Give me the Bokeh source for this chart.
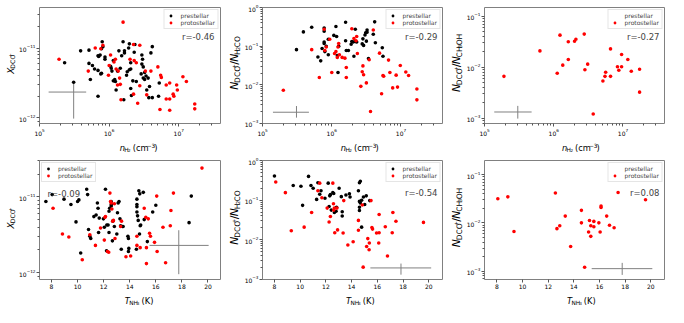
import numpy as np
from bokeh.plotting import figure
from bokeh.layouts import gridplot
from bokeh.models import Range1d, Label, FixedTicker, LogTickFormatter
from bokeh.core.properties import value
from bokeh.embed import file_html
from bokeh.resources import INLINE

# ---------------- data (log10 values) ----------------
# panel 1: n_H2 vs X(DCO+)
p1_pre_logn = [5.36,5.49,5.59,5.71,5.71,5.73,5.76,5.79,5.84,5.85,5.87,5.84,5.88,5.89,5.84,5.89,5.91,5.90,5.94,5.94,
               6.02,6.03,6.04,6.06,6.08,6.09,6.10,6.06,6.12,6.14,6.16,6.18,6.20,6.22,6.22,6.21,6.25,6.26,6.28,6.29,
               6.31,6.29,6.31,6.31,6.32,6.34,6.36,6.37,6.39,6.46,6.47,6.47,6.48,6.49,6.49,6.51,6.51,6.53,6.54,6.56,
               6.57,6.60,6.58,6.62,6.62,6.71,6.72]
p1_pre_logx = [-11.21,-11.49,-11.04,-11.03,-11.22,-11.45,-11.25,-11.30,-11.11,-11.12,-11.10,-11.32,-11.37,-11.36,-11.69,
               -11.01,-10.98,-10.91,-11.13,-11.16,-11.26,-11.29,-11.33,-11.47,-11.45,-11.48,-11.60,-11.18,-11.33,-11.04,
               -11.29,-11.11,-10.91,-11.04,-11.07,-11.74,-11.39,-11.34,-11.00,-10.94,-11.21,-11.31,-11.30,-11.58,-11.68,
               -11.47,-11.06,-10.95,-11.48,-11.37,-11.10,-11.23,-11.16,-11.27,-11.43,-11.45,-11.35,-11.40,-11.60,-11.43,
               -11.71,-11.07,-11.55,-11.71,-10.98,-11.69,-11.50]
p1_pro_logn = [5.28,5.70,5.80,5.88,5.91,6.02,6.00,6.07,6.09,6.10,6.13,6.15,6.16,6.17,6.20,6.12,5.99,6.30,6.35,6.36,
               6.35,6.39,6.44,6.44,6.41,6.52,6.54,6.60,6.70,6.74,6.75,6.82,6.87,6.87,6.87,6.92,6.93,6.97,6.98,7.06,
               7.11,7.23,7.23,6.73,6.82]
p1_pro_logx = [-11.16,-11.33,-11.00,-11.01,-10.96,-11.10,-11.25,-11.20,-11.16,-11.30,-11.33,-11.43,-11.52,-11.74,-10.63,
               -11.53,-11.39,-11.16,-10.95,-11.18,-11.66,-11.21,-10.96,-11.54,-11.79,-11.33,-11.67,-11.33,-11.27,-11.39,
               -11.42,-11.53,-11.50,-11.89,-11.73,-11.66,-11.69,-11.53,-11.60,-11.41,-11.48,-11.80,-11.87,-11.88,-11.73]

# panel 2: n_H2 vs N(DCO+)/N(H2CO)
p2_pre_logn = [5.49,5.59,5.71,5.80,5.84,5.86,5.89,5.89,5.89,5.89,5.90,5.92,5.95,5.95,6.03,6.06,6.07,6.08,6.09,6.10,
               6.20,6.20,6.21,6.24,6.28,6.29,6.31,6.32,6.34,6.34,6.36,6.44,6.45,6.46,6.48,6.49,6.50,6.51,6.51,6.53,
               6.60,6.62,6.63,6.73,6.74]
p2_pre_logr = [-1.09,-0.63,-0.51,-1.28,-1.38,-1.06,-0.53,-0.61,-0.89,-0.93,-1.14,-1.00,-0.82,-1.22,-0.72,-0.49,-0.75,
               -1.24,-1.68,-1.00,-0.38,-0.86,-1.11,-1.11,-0.95,-0.88,-0.89,-1.26,-0.56,-0.88,-0.89,-0.94,-0.81,-0.98,
               -0.71,-0.65,-0.87,-0.58,-0.64,-1.32,-0.69,-0.37,-0.91,-1.04,-1.26]
p2_pro_logn = [5.30,5.71,5.82,5.89,5.90,5.92,5.97,6.00,6.04,6.06,6.08,6.10,6.09,6.11,6.15,6.19,6.21,6.21,6.29,6.32,
               6.35,6.37,6.36,6.44,6.45,6.46,6.42,6.50,6.54,6.56,6.60,6.69,6.72,6.74,6.75,6.82,6.84,6.88,6.93,6.95,
               6.99,7.07,7.11,7.23,7.23]
p2_pro_logr = [-2.14,-1.09,-1.81,-0.56,-1.11,-1.02,-0.82,-1.68,-1.19,-1.14,-1.29,-0.93,-1.02,-1.22,-1.29,-1.31,-1.81,
               -1.55,-0.55,-0.80,-0.86,-1.19,-0.75,-1.66,-1.51,-1.74,-2.04,-1.95,-1.35,-2.69,-0.58,-1.18,-2.23,-1.76,
               -1.78,-1.36,-1.68,-2.08,-1.75,-2.06,-1.50,-1.67,-1.76,-2.11,-2.39]

# panel 3: n_H2 vs N(DCO+)/N(CH3OH)  (protostellar only)
p3_pro_logn = [5.28,5.80,6.05,6.09,6.13,6.21,6.21,6.30,6.32,6.44,6.45,6.49,6.57,6.71,6.74,6.75,6.82,6.82,6.92,6.94,
               6.98,6.98,7.07,7.12,7.24,7.24]
p3_pro_logr = [-2.18,-1.68,-2.12,-1.37,-1.96,-1.50,-1.85,-1.49,-1.45,-1.35,-2.05,-1.94,-2.92,-2.27,-2.18,-2.10,-1.64,
               -2.18,-1.99,-2.06,-1.75,-1.99,-1.85,-2.08,-2.04,-2.49]

# panel 4: T_NH3 vs X(DCO+)
p4_pre_T = [7.57,8.05,8.96,9.49,9.88,10.00,10.10,10.24,10.70,10.77,10.84,10.94,11.01,11.25,11.42,11.52,11.57,11.61,
            11.66,11.98,12.05,12.14,12.24,12.34,12.22,12.41,12.46,12.41,12.58,12.58,12.58,12.67,12.70,12.82,13.01,
            13.06,13.11,13.18,13.25,13.30,13.35,13.45,13.49,13.86,13.90,13.90,13.93,14.55,14.55,14.55,14.60,14.65,
            14.70,14.75,14.77,14.80,14.84,15.04,15.11,15.35,15.76,16.00,18.55,18.72,14.51,14.55]
p4_pre_logx = [-11.06,-10.97,-11.03,-11.10,-11.33,-11.06,-11.04,-11.74,-10.90,-10.97,-11.43,-11.52,-11.55,-11.26,-11.24,
               -11.08,-11.15,-11.47,-11.28,-11.29,-11.40,-10.90,-11.37,-11.37,-11.71,-11.19,-11.15,-11.47,-11.06,-11.10,
               -11.12,-11.58,-11.32,-11.39,-11.49,-11.21,-11.08,-11.06,-11.29,-11.38,-11.69,-11.39,-11.39,-11.52,-11.55,
               -11.72,-11.68,-11.20,-11.03,-11.10,-11.25,-11.31,-10.92,-11.49,-10.96,-11.38,-11.37,-10.94,-11.30,-11.59,
               -11.20,-11.11,-11.34,-10.99,-11.69,-11.13]
p4_pro_T = [8.12,8.84,9.33,10.36,10.94,11.37,11.76,12.10,12.14,12.05,12.29,12.39,12.48,12.53,12.58,12.63,12.70,12.75,
            12.82,12.87,13.30,13.37,13.71,14.07,14.55,14.55,14.80,15.11,15.23,15.28,15.28,15.42,15.52,15.59,15.90,
            16.07,16.10,16.55,17.11,17.16,17.35,16.75,19.54]
p4_pro_logx = [-11.15,-11.49,-11.53,-11.83,-11.50,-11.64,-11.41,-11.27,-11.26,-11.57,-11.72,-11.73,-10.95,-11.06,-11.08,
               -11.16,-11.32,-11.31,-11.09,-11.55,-11.39,-11.32,-11.79,-11.78,-11.52,-11.64,-11.67,-11.15,-11.27,-11.67,
               -11.88,-11.29,-11.48,-11.52,-11.60,-10.99,-11.72,-11.40,-11.38,-11.18,-10.95,-11.87,-10.62]

# panel 5: T_NH3 vs N(DCO+)/N(H2CO)
p5_pre_T = [8.00,9.46,10.06,10.19,10.65,10.84,11.01,11.28,11.38,11.52,11.62,11.93,12.18,12.25,12.30,12.35,12.42,12.54,
            12.61,12.66,12.79,12.83,13.03,13.20,13.27,13.27,13.56,13.83,13.88,14.53,14.61,14.68,14.61,14.61,14.61,
            14.68,14.78,14.78,14.92,15.02,15.14,15.41]
p5_pre_logr = [-0.39,-0.63,-0.65,-1.13,-0.40,-0.63,-0.70,-0.98,-0.56,-0.85,-0.76,-0.95,-0.57,-1.16,-0.89,-0.86,-1.25,
               -0.81,-0.83,-1.31,-1.28,-1.18,-0.70,-0.91,-1.29,-1.40,-0.87,-0.84,-0.92,-0.76,-0.56,-0.52,-1.03,-1.18,
               -1.26,-1.07,-1.00,-1.68,-0.92,-1.11,-0.89,-1.01]
p5_pro_T = [8.10,8.85,9.31,10.31,10.89,11.52,11.38,11.69,12.10,12.25,12.35,12.54,12.59,12.61,12.66,12.69,12.86,12.91,
            13.39,13.34,13.71,14.12,14.53,14.53,14.83,15.17,15.26,15.36,15.38,15.51,15.58,15.63,15.94,16.11,16.14,
            16.14,16.62,16.79,17.16,17.21,17.45,19.59,14.90]
p5_pro_logr = [-0.54,-0.81,-1.77,-1.68,-1.31,-0.57,-0.76,-0.94,-1.20,-1.55,-1.41,-0.57,-1.09,-1.25,-1.20,-1.82,-1.20,
               -1.75,-1.01,-1.83,-2.13,-2.05,-1.51,-1.76,-1.12,-2.17,-1.97,-2.25,-2.08,-1.01,-1.69,-1.73,-1.83,-2.08,
               -1.36,-1.82,-1.67,-2.41,-1.82,-1.31,-1.53,-1.56,-2.69]

# panel 6: T_NH3 vs N(DCO+)/N(CH3OH)  (protostellar only)
p6_pro_T = [8.07,8.85,9.33,12.56,12.68,12.90,13.33,13.75,14.59,14.59,14.84,15.15,15.22,15.32,15.32,15.56,15.56,15.95,
            16.05,16.12,16.12,16.56,16.78,17.14,17.45,19.59]
p6_pro_logr = [-1.50,-1.46,-2.18,-1.38,-2.12,-2.06,-1.86,-2.49,-1.74,-2.00,-2.92,-2.19,-1.95,-2.06,-2.28,-1.97,-2.08,
               -2.00,-2.19,-1.65,-1.68,-1.86,-2.05,-2.10,-1.37,-1.52]

# representative error bars: x centre, x low, x high, y centre, y low, y high (log10 for log axes)
err_p1 = [5.49, 5.13, 5.67, -11.63, -12.01, -11.49]
err_p2 = [5.49, 5.15, 5.67, -2.71, -2.85, -2.55]
err_p3 = [5.48, 5.14, 5.68, -2.88, -3.01, -2.76]
err_p4 = [17.76, 15.52, 20.05, -11.64, -12.02, -11.44]
err_p5 = [17.84, 15.46, 20.19, -2.71, -2.88, -2.60]
err_p6 = [17.77, 15.39, 20.12, -2.95, -3.08, -2.83]

r_texts = ["r=-0.46", "r=-0.29", "r=-0.27", "r=-0.09", "r=-0.54", "r=0.08"]
T_ticks = [8, 10, 12, 14, 16, 18, 20]

# ---------------- layout / style ----------------
FONT = "DejaVu Sans"
FRAME = "#808080"
TICK = "#555555"
YL = [16, 19, 19]            # widths of the y-label strips
PBL = [21, 18, 18]           # panel left borders (tick labels)
PBR = [2, 2, 4]
FW = 183
PW = [PBL[i] + FW + PBR[i] for i in range(3)]
BT, FH, PBB = 7, 120, 11
PH = BT + FH + PBB
XL = 15                      # height of the x-label strips

DECADES = [10.0 ** d for d in range(-14, 9)]
MINORS = [m * 10.0 ** d for d in range(-14, 9) for m in range(2, 10)]

CW = {'X': .685, 'D': .770, 'C': .698, 'O': .787, '+': .838, 'N': .748, '/': .337, 'H': .752,
      'n': .634, ' ': .318, '(': .390, ')': .390, 'c': .550, 'm': .974, '\u2212': .838, 'T': .611,
      'K': .656}
for dgt in "0123456789":
    CW[dgt] = .636


def tw(s, fs):
    return sum(CW.get(c, 0.6) for c in s) * fs


def strip(w, h):
    f = figure(width=w, height=h, x_range=Range1d(0, w), y_range=Range1d(0, h),
               output_backend="svg", toolbar_location=None,
               x_axis_location=None, y_axis_location=None, min_border=0)
    f.outline_line_color = None
    f.grid.grid_line_color = None
    f.background_fill_color = "white"
    f.border_fill_color = "white"
    return f


def rich(f, pieces, x, y, fs, vertical=False):
    total = sum(tw(t, fs * sc) for t, sc, sh, it in pieces)
    pos = -total / 2
    for t, sc, sh, it in pieces:
        sz = fs * sc
        lead = len(t) - len(t.lstrip(" "))
        pos += lead * CW[' '] * sz
        t = t.lstrip(" ")
        if vertical:
            lx, ly, ang = x - sh * fs, y + pos, np.pi / 2
        else:
            lx, ly, ang = x + pos, y + sh * fs, 0.0
        f.text(x=[lx], y=[ly], text=[t], angle=ang, text_font=value(FONT),
               text_font_size=value(f"{sz:.2f}px"),
               text_font_style=value("italic" if it else "normal"),
               text_align=value("left"), text_baseline=value("alphabetic"), text_color="black")
        pos += tw(t, sz)


SUB, SUBSUB, SUPSUB, SUP = (0.7, -0.2), (0.49, -0.33), (0.49, 0.12), (0.7, 0.33)
LBL_X = [("X", 1, 0, True), ("DCO", *SUB, False), ("+", *SUPSUB, False)]
LBL_R1 = [("N", 1, 0, True), ("DCO", *SUB, False), ("+", *SUPSUB, False), ("/", 1, 0, False),
          ("N", 1, 0, True), ("H", *SUB, False), ("2", *SUBSUB, False), ("CO", *SUB, False)]
LBL_R2 = [("N", 1, 0, True), ("DCO", *SUB, False), ("+", *SUPSUB, False), ("/", 1, 0, False),
          ("N", 1, 0, True), ("CH", *SUB, False), ("3", *SUBSUB, False), ("OH", *SUB, False)]
LBL_N = [("n", 1, 0, True), ("H", *SUB, False), ("2", *SUBSUB, False), (" (cm", 1, 0, False),
         ("\u22123", *SUP, False), (")", 1, 0, False)]
LBL_T = [("T", 1, 0, True), ("NH", *SUB, False), ("3", *SUBSUB, False), (" (K)", 1, 0, False)]


def L(v):
    return [10.0 ** a for a in v]


def panel(col, xr, yr, xlog):
    p = figure(width=PW[col], height=PH, x_range=Range1d(*xr), y_range=Range1d(*yr),
               x_axis_type="log" if xlog else "linear", y_axis_type="log",
               output_backend="svg", toolbar_location=None,
               min_border_left=PBL[col], min_border_right=PBR[col],
               min_border_top=BT, min_border_bottom=PBB)
    p.outline_line_color = FRAME
    p.outline_line_width = 1
    p.grid.grid_line_color = None
    p.background_fill_color = "white"
    p.border_fill_color = "white"
    for ax in p.axis:
        ax.axis_line_color = None
        ax.major_tick_line_color = TICK
        ax.minor_tick_line_color = TICK
        ax.major_tick_out = 3
        ax.major_tick_in = 0
        ax.minor_tick_out = 2
        ax.minor_tick_in = 0
        ax.major_label_text_font = FONT
        ax.major_label_text_font_size = "6px"
        ax.major_label_text_color = "black"
        ax.major_label_standoff = 1
    p.yaxis.ticker = FixedTicker(ticks=DECADES, minor_ticks=MINORS)
    p.yaxis.formatter = LogTickFormatter()
    if xlog:
        p.xaxis.ticker = FixedTicker(ticks=DECADES, minor_ticks=MINORS)
        p.xaxis.formatter = LogTickFormatter()
    else:
        p.xaxis.ticker = FixedTicker(ticks=T_ticks)
        p.xaxis.minor_tick_line_color = None
    return p


def errbar(p, e, xlog):
    f = (lambda v: 10.0 ** v) if xlog else (lambda v: v)
    xc, xl, xh, yc, yl, yh = e
    p.segment(x0=[f(xl), f(xc)], y0=[10.0 ** yc, 10.0 ** yl], x1=[f(xh), f(xc)], y1=[10.0 ** yc, 10.0 ** yh],
              line_color=FRAME, line_width=1)


def points(p, xs_pre, ys_pre, xs_pro, ys_pro):
    p.scatter(x=xs_pre, y=ys_pre, size=3.6, fill_color="black", line_color=None, legend_label="prestellar")
    p.scatter(x=xs_pro, y=ys_pro, size=3.6, fill_color="red", line_color=None, legend_label="protostellar")


def finish(p, col, loc, rtxt):
    lg = p.legend[0]
    lg.location = loc
    lg.label_text_font = FONT
    lg.label_text_font_size = "6px"
    lg.label_height = 7
    lg.glyph_height = 7
    lg.glyph_width = 8
    lg.label_standoff = 6
    lg.spacing = 0
    lg.padding = 2
    lg.margin = 2
    lg.border_line_color = "#cccccc"
    lg.background_fill_alpha = 1.0
    if loc == "top_left":
        p.add_layout(Label(x=8, y=FH - 34, x_units="screen", y_units="screen", text=rtxt, text_font=FONT,
                           text_font_size="8.5px", text_align="left", text_baseline="alphabetic"))
    else:
        p.add_layout(Label(x=FW - 8, y=FH - 33, x_units="screen", y_units="screen", text=rtxt,
                           text_font=FONT, text_font_size="8.5px", text_align="right",
                           text_baseline="alphabetic"))


def ystrip(col, pieces, fs):
    w = YL[col]
    f = strip(w, PH)
    rich(f, pieces, w - 0.5 * fs - 1.2, PBB + FH / 2, fs, vertical=True)
    return f


def xstrip(col, pieces):
    f = strip(PW[col], XL)
    rich(f, pieces, PBL[col] + FW / 2, 5.4, 8.3)
    return f


XN = (10 ** 4.999, 10 ** 7.60)
FS_X, FS_R = 8.8, 10.8
# row 1
p1 = panel(0, XN, (10 ** -12.08, 10 ** -10.42), True)
errbar(p1, err_p1, True)
points(p1, L(p1_pre_logn), L(p1_pre_logx), L(p1_pro_logn), L(p1_pro_logx))
finish(p1, 0, "top_right", r_texts[0])

p2 = panel(1, XN, (10 ** -3.002, 10 ** 0.002), True)
errbar(p2, err_p2, True)
points(p2, L(p2_pre_logn), L(p2_pre_logr), L(p2_pro_logn), L(p2_pro_logr))
finish(p2, 1, "top_right", r_texts[1])

p3 = panel(2, XN, (10 ** -3.106, 10 ** -0.827), True)
errbar(p3, err_p3, True)
points(p3, [], [], L(p3_pro_logn), L(p3_pro_logr))
finish(p3, 2, "top_right", r_texts[2])

# row 2
p4 = panel(0, (7.08, 20.96), (10 ** -12.09, 10 ** -10.52), False)
errbar(p4, err_p4, False)
points(p4, p4_pre_T, L(p4_pre_logx), p4_pro_T, L(p4_pro_logx))
finish(p4, 0, "top_left", r_texts[3])

p5 = panel(1, (7.07, 21.07), (10 ** -3.002, 10 ** 0.002), False)
errbar(p5, err_p5, False)
points(p5, p5_pre_T, L(p5_pre_logr), p5_pro_T, L(p5_pro_logr))
finish(p5, 1, "top_right", r_texts[4])

p6 = panel(2, (7.03, 21.07), (10 ** -3.175, 10 ** -0.706), False)
errbar(p6, err_p6, False)
points(p6, [], [], p6_pro_T, L(p6_pro_logr))
finish(p6, 2, "top_right", r_texts[5])

rows = [
    [ystrip(0, LBL_X, FS_X), p1, ystrip(1, LBL_R1, FS_R), p2, ystrip(2, LBL_R2, FS_R), p3],
    [None, xstrip(0, LBL_N), None, xstrip(1, LBL_N), None, xstrip(2, LBL_N)],
    [ystrip(0, LBL_X, FS_X), p4, ystrip(1, LBL_R1, FS_R), p5, ystrip(2, LBL_R2, FS_R), p6],
    [None, xstrip(0, LBL_T), None, xstrip(1, LBL_T), None, xstrip(2, LBL_T)],
]
grid = gridplot(rows, toolbar_location=None)
open("out.html", "w").write(file_html(grid, INLINE, title="DCO+ correlations"))
